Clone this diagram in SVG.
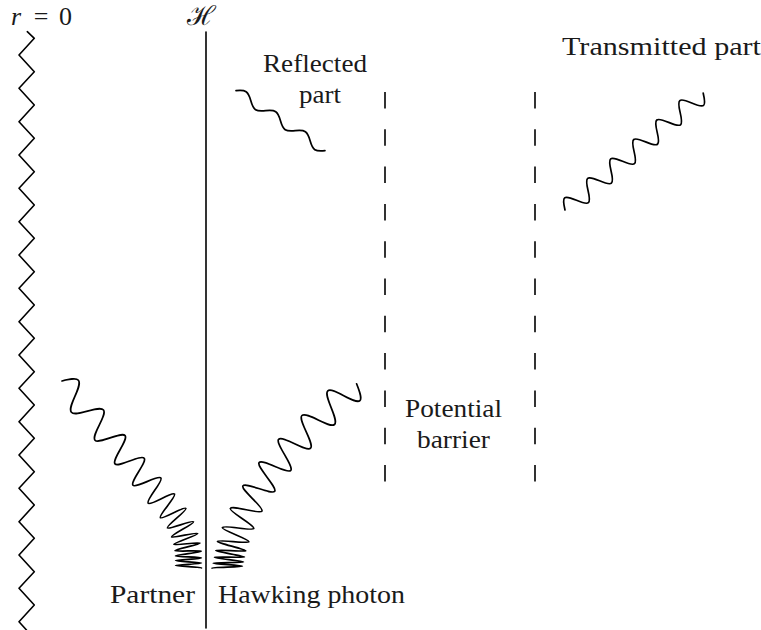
<svg xmlns="http://www.w3.org/2000/svg" width="761" height="630" viewBox="0 0 761 630">
<style>
.ln{fill:none;stroke:#000;stroke-width:1.6;stroke-linejoin:round;stroke-linecap:round}
.wv{fill:none;stroke:#000;stroke-width:1.7;stroke-linejoin:round;stroke-linecap:round}
.ds{fill:none;stroke:#000;stroke-width:1.6;stroke-dasharray:16.5 20.8}
.lb{font-family:'Liberation Serif',serif;font-size:26px;fill:#1a1a1a}
</style>
<rect width="761" height="630" fill="#fff"/>
<g id="singularity">
<polyline class="ln" points="27.3,31.7 34.3,38.3 19,55 34.3,71.7 19,88.3 34.3,105 19,121.7 34.3,138.3 19,155 34.3,171.7 19,188.3 34.3,205 19,221.7 34.3,238.3 19,255 34.3,271.7 19,288.3 34.3,305 19,321.7 34.3,338.3 19,355 34.3,371.7 19,388.3 34.3,405 19,421.7 34.3,438.3 19,455 34.3,471.7 19,488.3 34.3,505 19,521.7 34.3,538.3 19,555 34.3,571.7 19,588.3 34.3,605 19,621.7 26.5,630"/>
<text class="lb" x="11" y="25" font-style="italic">r</text>
<text class="lb" x="41" y="25" text-anchor="middle">=</text>
<text class="lb" x="59" y="25">0</text>
</g>
<g id="horizon">
<line class="ln" x1="206" y1="32" x2="206" y2="628"/>
<text x="201" y="25" text-anchor="middle" font-family="'DejaVu Serif', serif" font-size="27" fill="#1a1a1a">ℋ</text>
</g>
<g id="barrier">
<line class="ds" x1="385" y1="92" x2="385" y2="482"/>
<line class="ds" x1="535" y1="92" x2="535" y2="482"/>
<text class="lb" x="405" y="417" textLength="97" lengthAdjust="spacingAndGlyphs">Potential</text>
<text class="lb" x="417" y="448" textLength="73" lengthAdjust="spacingAndGlyphs">barrier</text>
</g>
<g id="hawking-photon">
<path class="wv" d="M356.6,383.8 C359.5,391.2 362.3,398.4 359.9,400.6 C355.1,405.1 332.6,386.4 327.8,390.8 C322.8,395.3 339.5,420.0 334.5,424.5 C329.5,429.0 306.8,410.9 301.9,415.5 C297.5,419.6 314.9,444.0 310.6,448.2 C306.3,452.4 282.8,435.0 278.6,439.3 C274.9,443.1 294.3,466.5 290.8,470.4 C287.3,474.3 262.4,458.5 259.1,462.6 C256.0,466.4 277.6,487.3 274.7,491.3 C271.8,495.3 245.5,481.8 242.9,485.9 C240.6,489.6 264.1,507.3 262.0,511.1 C259.9,514.9 232.1,504.5 230.3,508.5 C228.9,511.6 255.0,525.2 253.8,528.4 C252.6,531.6 223.3,524.4 222.3,527.7 C221.6,530.0 249.5,539.4 248.9,541.7 C248.3,544.0 218.0,539.2 217.5,541.5 C217.2,542.9 245.9,549.4 245.7,550.8 C245.5,552.2 216.0,549.2 215.8,550.6 C215.7,551.7 244.6,555.9 244.5,557.0 C244.4,558.1 214.5,556.2 214.4,557.3 C214.3,558.2 243.6,561.1 243.5,562.0 C243.4,562.9 213.1,562.3 213.1,563.2 C213.1,563.9 242.4,565.5 242.4,566.2 C242.4,566.9 212.0,567.3 212.0,568.0"/>
<text class="lb" x="218" y="603" textLength="187" lengthAdjust="spacingAndGlyphs">Hawking photon</text>
</g>
<g id="partner">
<path class="wv" d="M62,381 C69.2,379.2 76.1,377.5 78.4,380.3 C83.1,385.9 66.7,406.8 71.4,412.3 C75.85,417.6 99.05,404.7 103.5,410.0 C107.6,414.85 90.9,435.35 95.0,440.2 C98.75,444.6 121.35,431.2 125.1,435.6 C128.6,439.8 111.5,459.7 115.0,463.9 C118.4,467.9 140.8,454.2 144.2,458.2 C147.4,461.9 129.8,481.6 133.0,485.3 C135.9,488.8 158.0,474.5 160.9,478.0 C163.5,481.05 145.6,500.15 148.2,503.2 C150.5,506.0 172.2,491.3 174.5,494.1 C176.6,496.6 158.3,515.2 160.4,517.7 C162.3,519.9 184.3,506.0 185.9,508.4 C187.3,510.5 166.2,525.7 167.4,527.9 C168.5,529.9 192.6,519.7 193.5,521.8 C194.3,523.65 170.9,535.0 171.6,536.9 C172.2,538.6 197.3,531.75 197.8,533.5 C198.3,535.1 173.4,542.8 173.8,544.4 C174.1,545.8 199.85,541.7 200.1,543.1 C200.3,544.4 174.7,549.4 174.9,550.7 C175.05,551.9 201.1,550.0 201.2,551.2 C201.3,552.3 175.35,554.8 175.4,555.9 C175.45,556.9 201.45,557.0 201.45,558.0 C201.45,558.9 175.5,559.7 175.5,560.6 C175.5,561.5 201.5,562.2 201.5,563.1 C201.5,564.0 175.5,564.6 175.5,565.5 C175.5,566.3 201.5,567.0 201.5,567.8"/>
<text class="lb" x="110" y="603" textLength="85" lengthAdjust="spacingAndGlyphs">Partner</text>
</g>
<g id="reflected">
<path class="wv" transform="translate(236,90.7) rotate(34)" d="M0,0 c2.92,-2.46 5.70,-4.8 8.94,-4.8 s6.03,2.34 8.94,4.8 s5.70,4.8 8.94,4.8 s6.03,-2.34 8.94,-4.8 s5.70,-4.8 8.94,-4.8 s6.03,2.34 8.94,4.8 s5.70,4.8 8.94,4.8 s6.03,-2.34 8.94,-4.8 s5.70,-4.8 8.94,-4.8 s6.03,2.34 8.94,4.8 s5.70,4.8 8.94,4.8 s6.03,-2.34 8.94,-4.8"/>
<text class="lb" x="263" y="72" textLength="104" lengthAdjust="spacingAndGlyphs">Reflected</text>
<text class="lb" x="299" y="103" textLength="42" lengthAdjust="spacingAndGlyphs">part</text>
</g>
<g id="transmitted">
<path class="wv" transform="translate(565,210) rotate(-40.2)" d="M0,0 c2.46,-4.86 4.81,-9.5 7.54,-9.5 s5.08,4.64 7.54,9.5 s4.81,9.5 7.54,9.5 s5.08,-4.64 7.54,-9.5 s4.81,-9.5 7.54,-9.5 s5.08,4.64 7.54,9.5 s4.81,9.5 7.54,9.5 s5.08,-4.64 7.54,-9.5 s4.81,-9.5 7.54,-9.5 s5.08,4.64 7.54,9.5 s4.81,9.5 7.54,9.5 s5.08,-4.64 7.54,-9.5 s4.81,-9.5 7.54,-9.5 s5.08,4.64 7.54,9.5 s4.81,9.5 7.54,9.5 s5.08,-4.64 7.54,-9.5 s4.81,-9.5 7.54,-9.5 s5.08,4.64 7.54,9.5 s4.81,9.5 7.54,9.5 s5.08,-4.64 7.54,-9.5 s4.81,-9.5 7.54,-9.5 s5.08,4.64 7.54,9.5 s4.81,9.5 7.54,9.5 s5.08,-4.64 7.54,-9.5"/>
<text class="lb" x="562" y="55" textLength="199" lengthAdjust="spacingAndGlyphs">Transmitted part</text>
</g>
</svg>
